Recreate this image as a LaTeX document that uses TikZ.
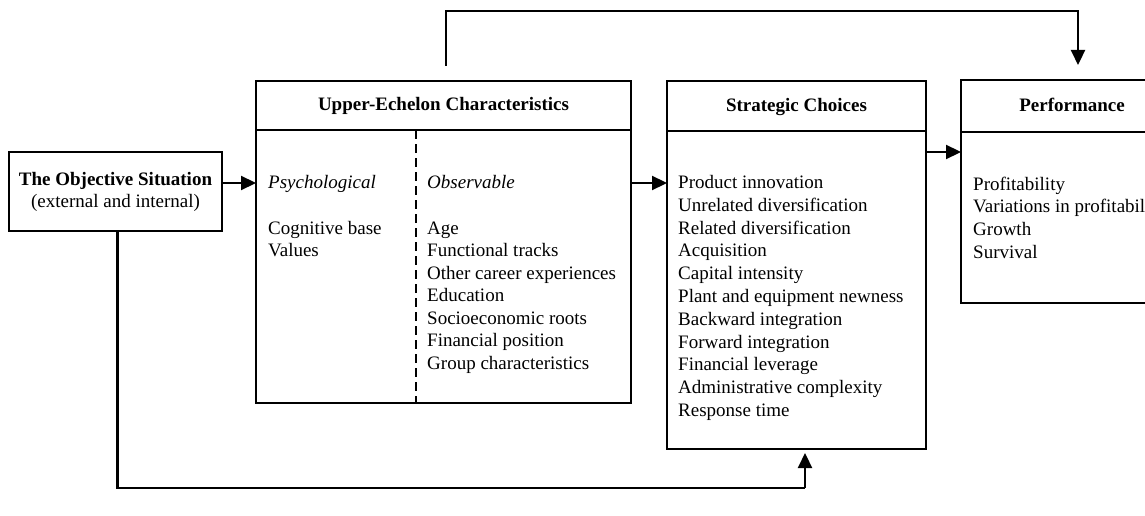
\documentclass[tikz,border=0pt]{standalone}
\usepackage{fontspec}
\setmainfont{Liberation Serif}
\usetikzlibrary{arrows.meta}
\begin{document}
\begin{tikzpicture}[x=1pt,y=-1pt,
  box/.style={draw,line width=1.5pt,inner sep=0pt,outer sep=0pt},
  arr/.style={line width=2.2pt,-{Triangle[length=15pt,width=14pt]}},
  txt/.style={anchor=base west,inner sep=0pt,font=\fontsize{19}{22.7}\selectfont},
  hd/.style={anchor=base,inner sep=0pt,font=\fontsize{19}{22.7}\selectfont\bfseries},
  divider/.style={line width=1.5pt,dash pattern=on 9pt off 5pt}]
\clip (0,0) rectangle (1145,516);
% Objective situation
\node[box,line width=2.5pt,minimum width=213pt,minimum height=79pt] (obj) at (115.5,191.5) {};
\node[hd] (objt1) at (115.5,185) {The Objective Situation};
\node[txt,anchor=base] (objt2) at (115.5,207) {(external and internal)};
% Upper-echelon
\node[box,minimum width=375pt,minimum height=49pt] (uehead) at (443.5,105.5) {};
\node[box,minimum width=375pt,minimum height=273pt] (uebody) at (443.5,266.5) {};
\node[hd] (uet) at (uehead.center |- 0,111) {Upper-Echelon Characteristics};
\draw[divider] (416,130) -- (416,403);
\node[txt,font=\fontsize{19}{22.7}\selectfont\itshape] (psy) at (268,188.5) {Psychological};
\node[txt] (p1) at (268,234) {Cognitive base};
\node[txt] (p2) at (268,256.5) {Values};
\node[txt,font=\fontsize{19}{22.7}\selectfont\itshape] (obs) at (427,188.5) {Observable};
\foreach \t [count=\i from 0] in {Age,Functional tracks,Other career experiences,Education,Socioeconomic roots,Financial position,Group characteristics}
  \node[txt] (o\i) at (427,234+22.5*\i) {\t};
% Strategic choices
\node[box,minimum width=259pt,minimum height=50pt] (schead) at (796.5,106) {};
\node[box,minimum width=259pt,minimum height=318pt] (scbody) at (796.5,290) {};
\node[hd] (sct) at (schead.center |- 0,111.5) {Strategic Choices};
\foreach \t [count=\i from 0] in {Product innovation,Unrelated diversification,Related diversification,Acquisition,Capital intensity,Plant and equipment newness,Backward integration,Forward integration,Financial leverage,Administrative complexity,Response time}
  \node[txt] (s\i) at (678,188.5+22.8*\i) {\t};
% Performance
\node[box,minimum width=222pt,minimum height=52pt] (pfhead) at (1072,106) {};
\node[box,minimum width=222pt,minimum height=171pt] (pfbody) at (1072,217.5) {};
\node[hd] (pft) at (pfhead.center |- 0,111.5) {Performance};
\foreach \t [count=\i from 0] in {Profitability,Variations in profitability,Growth,Survival}
  \node[txt] (f\i) at (973,190+22.7*\i) {\t};
% connectors
\coordinate (a1) at (obj.east |- 0,183);
\draw[arr] (a1) -- (a1 -| uebody.west);
\coordinate (a2) at (uebody.east |- 0,183);
\draw[arr] (a2) -- (a2 -| scbody.west);
\coordinate (a3) at (scbody.east |- 0,152);
\draw[arr] (a3) -- (a3 -| pfbody.west);
\coordinate (b0) at (117.5,231);
\coordinate (b1) at (805,488);
\coordinate (b2) at (805,449);
\draw[line width=2.2pt] (b0 |- obj.south) -- (b0 |- b1) -- (b1);
\draw[arr,shorten >=4pt] (b1) -- (b2 |- scbody.south);
\coordinate (t0) at (446,66);
\coordinate (t1) at (446,11);
\coordinate (t2) at (1078,11);
\draw[arr,shorten >=15pt] (t0) -- (t1) -- (t2) -- (t2 |- pfhead.north);
\end{tikzpicture}
\end{document}
